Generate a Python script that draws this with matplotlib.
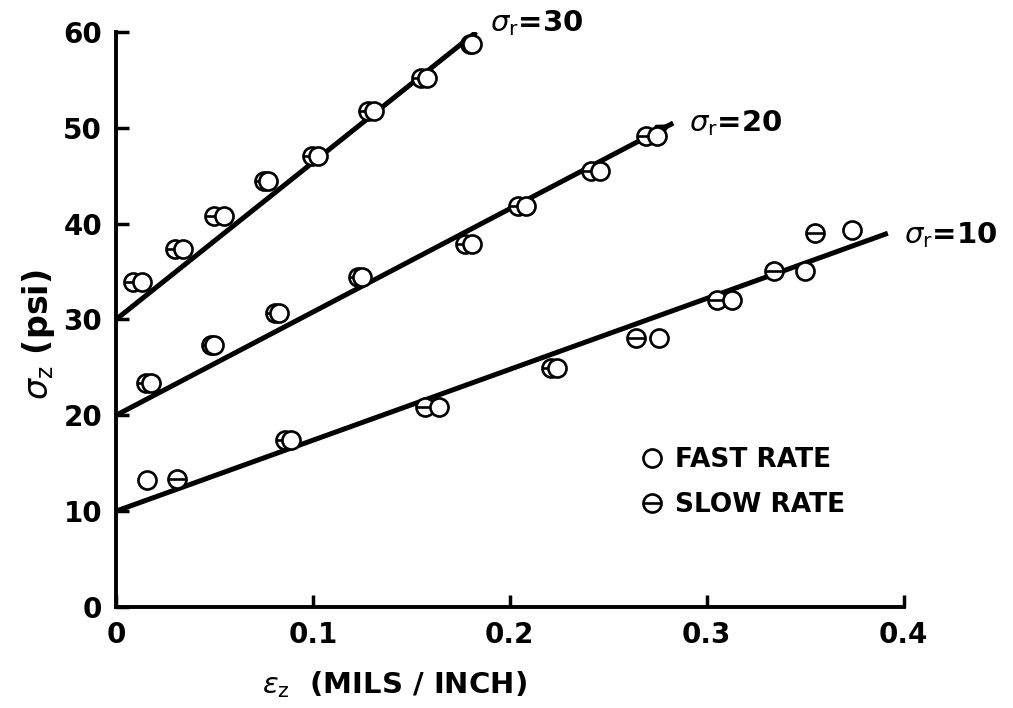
import numpy as np
import matplotlib
matplotlib.use("Agg")
import matplotlib.pyplot as plt
from matplotlib.path import Path
from matplotlib.lines import Line2D

plt.rcParams['font.family'] = ['DejaVu Sans']
plt.rcParams['mathtext.fontset'] = 'dejavusans'

# sigma_r = 30
fast30_x = [0.013, 0.034, 0.055, 0.077, 0.1025, 0.131, 0.158, 0.181]
fast30_y = [33.9, 37.4, 40.8, 44.5, 47.1, 51.8, 55.2, 58.8]
slow30_x = [0.0086, 0.030, 0.050, 0.075, 0.0995, 0.128, 0.155, 0.180]
slow30_y = [33.9, 37.4, 40.8, 44.5, 47.1, 51.8, 55.2, 58.8]

# sigma_r = 20
fast20_x = [0.018, 0.050, 0.083, 0.125, 0.181, 0.208, 0.246, 0.275]
fast20_y = [23.4, 27.3, 30.7, 34.4, 37.9, 41.8, 45.5, 49.1]
slow20_x = [0.015, 0.048, 0.081, 0.123, 0.177, 0.204, 0.241, 0.269]
slow20_y = [23.4, 27.3, 30.7, 34.4, 37.9, 41.8, 45.5, 49.1]

# sigma_r = 10
fast10_x = [0.016, 0.089, 0.164, 0.224, 0.276, 0.313, 0.350, 0.374]
fast10_y = [13.2, 17.4, 20.9, 24.9, 28.1, 32.0, 35.1, 39.3]
slow10_x = [0.031, 0.086, 0.157, 0.221, 0.264, 0.305, 0.334, 0.355]
slow10_y = [13.4, 17.4, 20.9, 24.9, 28.1, 32.0, 35.1, 39.0]

# fitted lines: intercept and end point
line_b = [10, 20, 30]
line_end_x = [0.392, 0.283, 0.183]
line_end_y = [39.0, 50.5, 60.0]
line_labels = [r"$\sigma_{\rm r}$=10", r"$\sigma_{\rm r}$=20", r"$\sigma_{\rm r}$=30"]
label_x = [0.400, 0.291, 0.190]
label_y = [38.8, 50.5, 60.9]

# circle with a horizontal bar for the slow rate
slow_marker = Path.make_compound_path(
    Path.unit_circle(),
    Path([(-1, 0), (1, 0)], [Path.MOVETO, Path.LINETO]))

fig = plt.figure(figsize=(10.13, 7.08), dpi=100)
ax = fig.add_axes([0.1145, 0.1427, 0.7775, 0.8121])

for b, ex, ey in zip(line_b, line_end_x, line_end_y):
    ax.plot([0, ex], [b, ey], color='black', lw=3.6, solid_capstyle='butt', zorder=2)
# arrow tip on the sigma_r=20 line
ax.annotate("", xy=(line_end_x[1], line_end_y[1]), xytext=(line_end_x[1] - 0.01, line_end_y[1] - 1.1),
            arrowprops=dict(arrowstyle='-|>', color='black', lw=2.5, mutation_scale=18), zorder=2)

mk = dict(linestyle='none', markersize=13, markeredgewidth=1.9,
          markeredgecolor='black', markerfacecolor='white', clip_on=False)
for sx, sy, fx, fy in [(slow30_x, slow30_y, fast30_x, fast30_y),
                       (slow20_x, slow20_y, fast20_x, fast20_y),
                       (slow10_x, slow10_y, fast10_x, fast10_y)]:
    ax.plot(sx, sy, marker=slow_marker, zorder=3, **mk)
    ax.plot(fx, fy, marker='o', zorder=4, **mk)

for t, tx, ty in zip(line_labels, label_x, label_y):
    ax.text(tx, ty, t, fontsize=21, fontweight='bold', va='center', ha='left')

ax.set_xlim(0, 0.4)
ax.set_ylim(0, 60)
ax.set_xticks([0, 0.1, 0.2, 0.3, 0.4])
ax.set_xticklabels(['0', '0.1', '0.2', '0.3', '0.4'])
ax.set_yticks([0, 10, 20, 30, 40, 50, 60])
for s in ['top', 'right']:
    ax.spines[s].set_visible(False)
for s in ['left', 'bottom']:
    ax.spines[s].set_linewidth(2.8)
ax.tick_params(direction='in', length=9, width=2.5, labelsize=20, pad=10)
for lab in ax.get_xticklabels() + ax.get_yticklabels():
    lab.set_fontweight('bold')

ax.set_xlabel(r"$\epsilon_{\rm z}$  (MILS / INCH)", fontsize=21, fontweight='bold')
ax.xaxis.set_label_coords(0.354, -0.108)
ax.set_ylabel(r"$\sigma_{\rm z}$ (psi)", fontsize=24, fontweight='bold')
ax.yaxis.set_label_coords(-0.075, 0.473)

handles = [Line2D([], [], marker='o', **mk),
           Line2D([], [], marker=slow_marker, **mk)]
ax.legend(handles, ['FAST RATE', 'SLOW RATE'], loc='upper left',
          bbox_to_anchor=(0.64, 0.319), frameon=False, handlelength=0.6,
          handletextpad=0.6, labelspacing=0.7,
          prop=dict(size=19, weight='bold'))

fig.savefig("out.png", dpi=100)
